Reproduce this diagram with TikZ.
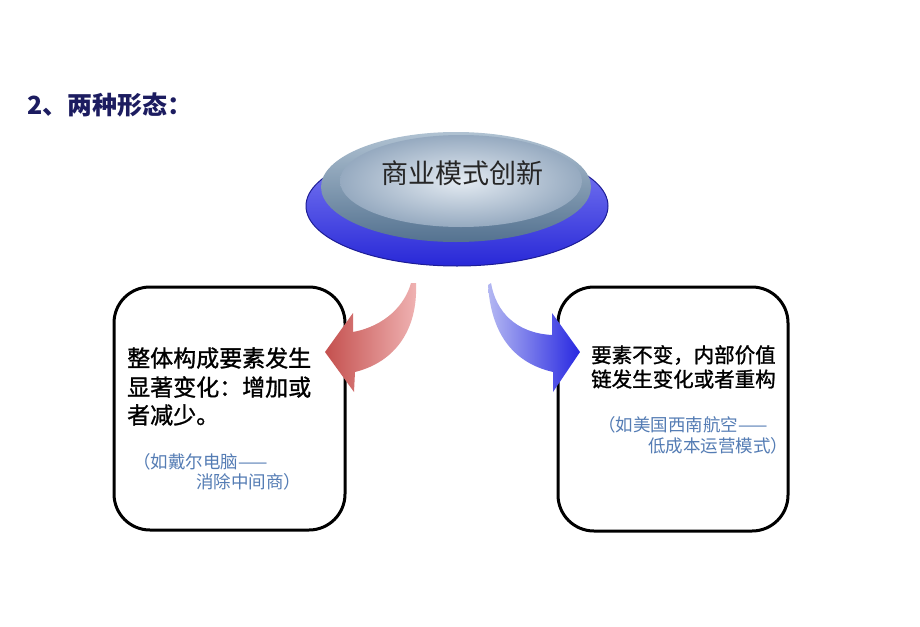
\documentclass[tikz,border=0pt]{standalone}
\usepackage{fontspec}
\setmainfont{Liberation Sans}
\newfontfamily\cjk{Noto Sans CJK SC}
\newfontfamily\cjkheavy[FakeBold=1.2]{Noto Sans CJK SC}
\definecolor{titlenavy}{RGB}{28,28,96}
\definecolor{noteblue}{RGB}{84,124,180}
\definecolor{redhead}{RGB}{196,80,78}
\definecolor{redtail}{RGB}{240,180,180}
\definecolor{bluehead}{RGB}{40,40,225}
\definecolor{bluetail}{RGB}{180,184,242}
\definecolor{ringtop}{RGB}{130,130,245}
\definecolor{ringbot}{RGB}{40,40,215}
\definecolor{bevtop}{RGB}{176,194,210}
\definecolor{bevbot}{RGB}{84,114,144}
\definecolor{facein}{RGB}{228,235,242}
\definecolor{faceout}{RGB}{150,170,192}
\begin{document}
\begin{tikzpicture}[x=1pt,y=1pt,
  txt/.style={anchor=west,inner sep=0pt,font=\cjk},
  mainline/.style={txt,font=\cjkheavy\fontsize{23}{23}\selectfont,text=black},
  mainlineR/.style={txt,font=\cjkheavy\fontsize{20.5}{20.5}\selectfont,text=black},
  noteline/.style={txt,font=\cjk\fontsize{17.5}{17.5}\selectfont,text=noteblue},
  box/.style={draw=black,line width=3pt,rounded corners=36pt,fill=white}]
\useasboundingbox (0,0) rectangle (920,-626);
\fill[white] (0,0) rectangle (920,-626);

% title
\node[txt,font=\cjk\bfseries\fontsize{25}{25}\selectfont,text=titlenavy] (title) at (27,-105) {2、两种形态：};

% disk
\shade[top color=ringtop,bottom color=ringbot] (457,-206) ellipse [x radius=151,y radius=60];
\draw[ringbot!70!black,line width=1pt] (457,-206) ellipse [x radius=151,y radius=60];
\shade[top color=bevtop,bottom color=bevbot] (456,-187) ellipse [x radius=135,y radius=55];
\shade[inner color=facein,outer color=faceout] (461,-181) ellipse [x radius=121,y radius=46];
\node[txt,anchor=center,font=\cjk\fontsize{27}{27}\selectfont,text=black!85] (center) at (462,-173) {商业模式创新};

% boxes
\draw[box] (114,-287) rectangle (345,-530);
\draw[box] (558,-287) rectangle (788,-531);

% left texts
\node[mainline] (l1) at (127,-358) {整体构成要素发生};
\node[mainline] (l2) at (127,-387) {显著变化：增加或};
\node[mainline] (l3) at (127,-415) {者减少。};
\node[noteline] (l4) at (133,-462) {（如戴尔电脑——};
\node[noteline] (l5) at (196,-482) {消除中间商）};

% right texts
\node[mainlineR] (r1) at (591,-355) {要素不变，内部价值};
\node[mainlineR] (r2) at (591,-379) {链发生变化或者重构};
\node[noteline] (r3) at (598,-425) {（如美国西南航空——};
\node[noteline] (r4) at (648,-446) {低成本运营模式）};

% red arrow
\shade[left color=redhead,right color=redtail]
  (416,-283) .. controls (418,-330) and (395,-362) .. (355,-372)
  -- (354,-392) -- (325,-352) -- (353,-313) -- (353,-332)
  .. controls (385,-326) and (405,-305) .. (411,-283) -- cycle;

% blue arrow
\shade[left color=bluetail,right color=bluehead]
  (491,-283) .. controls (496,-312) and (516,-333) .. (552,-335)
  -- (552,-313) -- (580,-352) -- (553,-392) -- (553,-372)
  .. controls (510,-362) and (491,-330) .. (488,-285) -- cycle;
\end{tikzpicture}
\end{document}
